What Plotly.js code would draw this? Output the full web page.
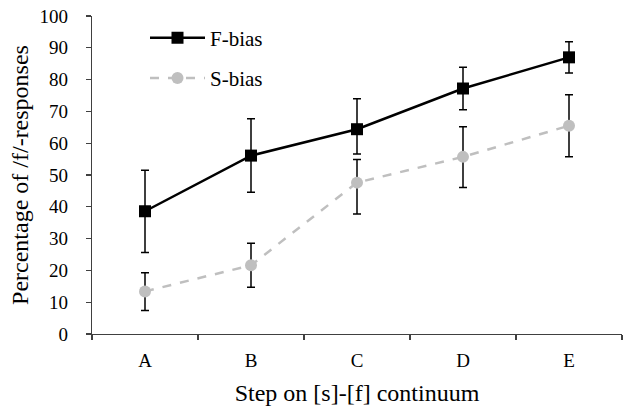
<!DOCTYPE html>
<html>
<head>
<meta charset="utf-8">
<script src="https://cdn.plot.ly/plotly-3.0.1.min.js"></script>
<style>
  html, body { margin: 0; padding: 0; background: #fff; }
  #chart { width: 625px; height: 407px; }
</style>
</head>
<body>
<div id="chart"></div>
<script>
// steps on the continuum
const steps = ["A", "B", "C", "D", "E"];

// F-bias group: mean and error bar ends
const fBias = [38.6, 56.1, 64.4, 77.2, 87.0];
const fBiasUpper = [51.5, 67.7, 74.0, 83.9, 91.9];
const fBiasLower = [25.6, 44.6, 56.6, 70.5, 82.1];

// S-bias group
const sBias = [13.4, 21.6, 47.6, 55.7, 65.5];
const sBiasUpper = [19.3, 28.5, 54.9, 65.2, 75.2];
const sBiasLower = [7.4, 14.7, 37.7, 46.1, 55.7];

const yTicks = [0, 10, 20, 30, 40, 50, 60, 70, 80, 90, 100];

const FONT = '"Liberation Serif", "Times New Roman", serif';

function errBars(mean, upper, lower) {
    return {
        type: "data",
        symmetric: false,
        array: upper.map((u, i) => +(u - mean[i]).toFixed(2)),
        arrayminus: lower.map((l, i) => +(mean[i] - l).toFixed(2)),
        color: "#000",
        thickness: 1.5,
        width: 4
    };
}

const traces = [
    {
        x: steps, y: fBias, name: "F-bias", type: "scatter", mode: "lines+markers",
        legendgroup: "f",
        line: { color: "#000", width: 2.5 },
        marker: { symbol: "square", size: 12, color: "#000" },
        error_y: errBars(fBias, fBiasUpper, fBiasLower)
    },
    {
        x: steps, y: sBias, name: "S-bias", type: "scatter", mode: "lines+markers",
        legendgroup: "s",
        line: { color: "#bfbfbf", width: 2.5, dash: "dash" },
        marker: { symbol: "circle", size: 12, color: "#bfbfbf" },
        error_y: errBars(sBias, sBiasUpper, sBiasLower)
    }
];

const layout = {
    width: 625, height: 407,
    margin: { l: 92, r: 3, t: 16, b: 73 },
    paper_bgcolor: "#fff", plot_bgcolor: "#fff",
    font: { family: FONT, size: 19, color: "#000" },
    showlegend: true,
    legend: {
        x: 0.1, y: 0.995, xanchor: "left", yanchor: "top",
        bgcolor: "rgba(0,0,0,0)",
        font: { family: FONT, size: 21 },
        itemwidth: 55,
        traceorder: "grouped", tracegroupgap: 10
    },
    xaxis: {
        type: "category",
        range: [-0.5, 4.5],
        tickson: "boundaries",
        ticks: "outside", ticklen: 5, tickcolor: "#404040", tickwidth: 1.2,
        showline: true, linecolor: "#404040", linewidth: 1.2,
        showgrid: false, zeroline: false,
        ticklabelstandoff: 9,
        tickfont: { family: FONT, size: 19 },
        title: { text: "Step on [s]-[f] continuum", font: { family: FONT, size: 24 }, standoff: 14 }
    },
    yaxis: {
        range: [0, 100],
        tickvals: yTicks,
        ticks: "outside", ticklen: 5, tickcolor: "#404040", tickwidth: 1.2,
        showline: true, linecolor: "#404040", linewidth: 1.2,
        showgrid: false, zeroline: false,
        ticklabelstandoff: 14,
        tickfont: { family: FONT, size: 19 },
        title: { text: "Percentage of /f/-responses", font: { family: FONT, size: 24 }, standoff: 4 }
    }
};

Plotly.newPlot("chart", traces, layout, { displayModeBar: false, staticPlot: true });
</script>
</body>
</html>
